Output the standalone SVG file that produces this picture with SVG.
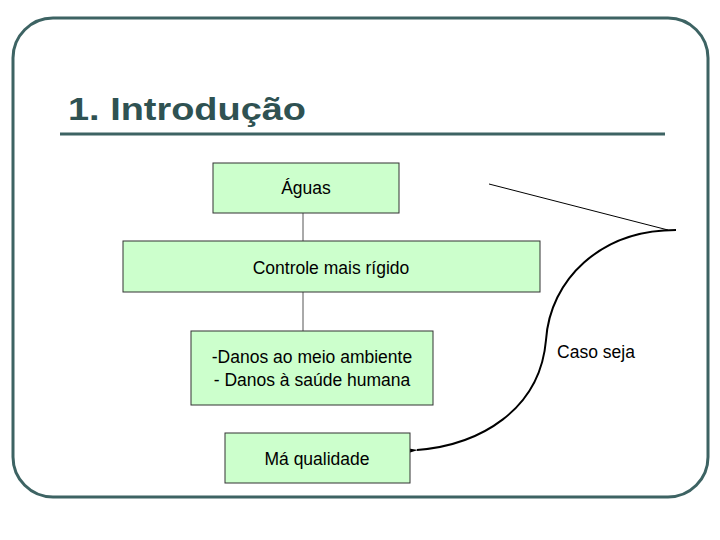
<svg xmlns="http://www.w3.org/2000/svg" width="720" height="540" viewBox="0 0 720 540">
<style>
.box{fill:#ccffcc;stroke:#333;stroke-width:1}
.t{font-family:"Liberation Sans",Arial,sans-serif;font-size:17.5px;fill:#000;text-anchor:middle}
</style>
<defs><marker id="ah" markerWidth="12" markerHeight="8" refX="1" refY="4" orient="auto" markerUnits="userSpaceOnUse"><path d="M12,1 L0,4 L12,7 Z" fill="#000"/></marker></defs>
<rect width="720" height="540" fill="#fff"/>
<rect x="13" y="18" width="695" height="479" rx="40" fill="none" stroke="#3d6363" stroke-width="3"/>
<text x="68" y="120" font-family="'Liberation Sans',Arial,sans-serif" font-weight="bold" font-size="32" fill="#2f5252" textLength="238" lengthAdjust="spacingAndGlyphs">1. Introdução</text>
<line x1="60" y1="134" x2="665" y2="134" stroke="#3d6363" stroke-width="3"/>
<g id="connectors" fill="none" stroke="#000">
<line x1="303" y1="213" x2="303" y2="241" stroke="#555"/>
<line x1="303" y1="292" x2="303" y2="331" stroke="#555"/>
<line x1="489" y1="184" x2="668" y2="230"/>
<path d="M676,230 C600,230 550,280 546,340 C540,410 480,445 417,450" stroke-width="2" marker-end="url(#ah)"/>
</g>
<g id="aguas"><rect class="box" x="213" y="163" width="186" height="50"/><text class="t" x="306" y="194">Águas</text></g>
<g id="controle"><rect class="box" x="123" y="241" width="417" height="51"/><text class="t" x="331" y="274">Controle mais rígido</text></g>
<g id="danos"><rect class="box" x="191" y="331" width="242" height="74"/><text class="t" x="312" y="363">-Danos ao meio ambiente</text><text class="t" x="312" y="386">- Danos à saúde humana</text></g>
<g id="ma"><rect class="box" x="225" y="433" width="185" height="50"/><text class="t" x="317" y="465">Má qualidade</text></g>
<g id="caso"><text class="t" x="596" y="358">Caso seja</text></g>
</svg>
